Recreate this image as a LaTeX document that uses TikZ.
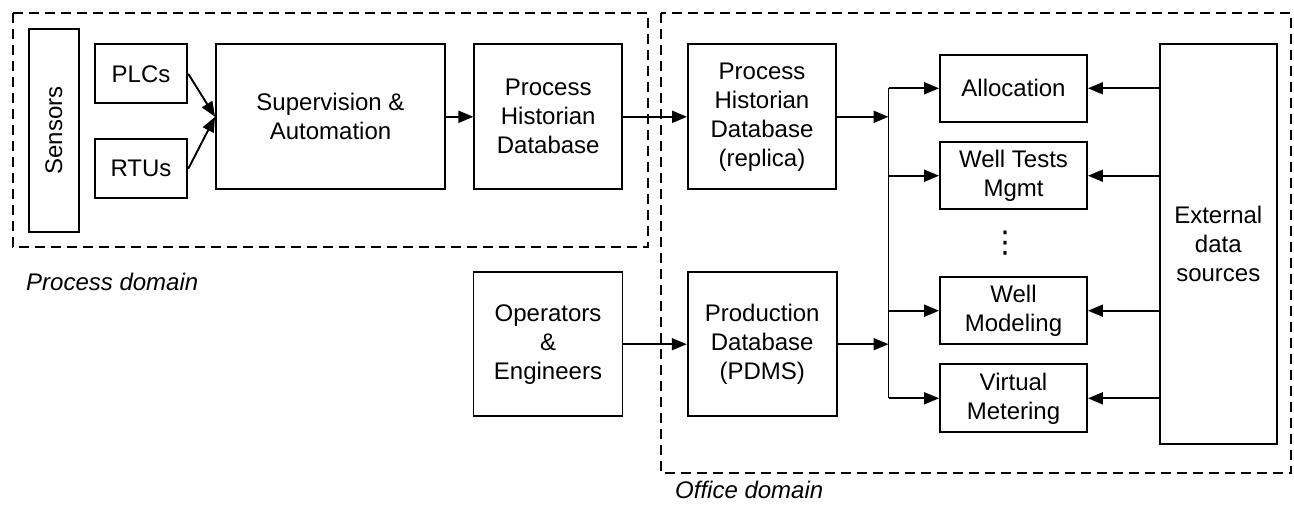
\documentclass[tikz,border=0pt]{standalone}
\usepackage{fontspec}
\setmainfont{Liberation Sans}
\newfontfamily\symfont{DejaVu Sans}
\usetikzlibrary{arrows.meta}
\begin{document}
\begin{tikzpicture}[x=1pt,y=-1pt,
  box/.style={draw, line width=1.9pt, inner sep=0pt, align=center,
    font=\fontsize{24}{29}\selectfont},
  arr/.style={line width=1.9pt, -{Triangle[length=15pt,width=12pt]}},
  ln/.style={line width=1.9pt},
  dombox/.style={draw, line width=1.8pt, dash pattern=on 10pt off 6pt},
  lbl/.style={font=\fontsize{24}{29}\selectfont\itshape, inner sep=0pt, anchor=west}]
\useasboundingbox (0,0) rectangle (1294,504);
% domains
\draw[dombox] (12.6,12.7) rectangle (648,246.7);
\draw[dombox] (660.8,12.7) rectangle (1291.3,473);
\node[lbl] (pdom) at (26,282) {Process domain};
\node[lbl] (odom) at (675,490) {Office domain};
% process nodes
\node[box, rotate=90, minimum width=202.4pt, minimum height=50.5pt] (sensors) at (53.9,130.5) {Sensors};
\node[box, minimum width=92.6pt, minimum height=59pt] (plcs) at (141,73.8) {PLCs};
\node[box, minimum width=92.6pt, minimum height=59pt] (rtus) at (141,168.8) {RTUs};
\node[box, minimum width=229pt, minimum height=145pt] (sup) at (330.5,116.8) {Supervision \&\\Automation};
\node[box, minimum width=147.7pt, minimum height=145pt] (ph) at (548.2,116.8) {Process\\Historian\\Database};
% office nodes
\node[box, minimum width=148pt, minimum height=145pt] (rep) at (762,116.8) {Process\\Historian\\Database\\(replica)};
\node[box, minimum width=149pt, minimum height=143.7pt] (ops) at (548,344.2) {Operators\\\&\\Engineers};
\node[box, minimum width=149pt, minimum height=143.7pt] (pdms) at (762.2,344.2) {Production\\Database\\(PDMS)};
\node[box, minimum width=147pt, minimum height=66.7pt] (alloc) at (1013.5,88.3) {Allocation};
\node[box, minimum width=147pt, minimum height=66.7pt] (wt) at (1013.5,175.7) {Well Tests\\Mgmt};
\node[box, minimum width=147pt, minimum height=66.7pt] (wm) at (1013.5,310.7) {Well\\Modeling};
\node[box, minimum width=147pt, minimum height=68pt] (vm) at (1013.5,398.3) {Virtual\\Metering};
\node[box, minimum width=116.7pt, minimum height=399.7pt] (ext) at (1218.3,244.2) {External\\data\\sources};
\node[inner sep=0pt, font=\symfont\fontsize{30}{30}\selectfont] (dots) at (1005,243) {⋮};
% connectors
\draw[arr] (plcs.east) -- (sup.west);
\draw[arr] (rtus.east) -- (sup.west);
\draw[arr] (sup.east) -- (ph.west);
\draw[arr] (ph.east) -- (rep.west);
\draw[arr] (ops.east) -- (pdms.west);
\coordinate (bustop) at (888.5,88.3);
\coordinate (busbot) at (888.5,398.3);
\coordinate (busrep) at (888.5,116.8);
\coordinate (buspdms) at (888.5,344.2);
\draw[ln] (bustop) -- (busbot);
\draw[arr] (rep.east) -- (busrep);
\draw[arr] (pdms.east) -- (buspdms);
\draw[arr] (bustop) -- (alloc.west);
\draw[arr] (wt.west -| bustop) -- (wt.west);
\draw[arr] (wm.west -| bustop) -- (wm.west);
\draw[arr] (busbot) -- (vm.west);
\draw[arr] (alloc.east -| ext.west) -- (alloc.east);
\draw[arr] (wt.east -| ext.west) -- (wt.east);
\draw[arr] (wm.east -| ext.west) -- (wm.east);
\draw[arr] (vm.east -| ext.west) -- (vm.east);
\end{tikzpicture}
\end{document}
